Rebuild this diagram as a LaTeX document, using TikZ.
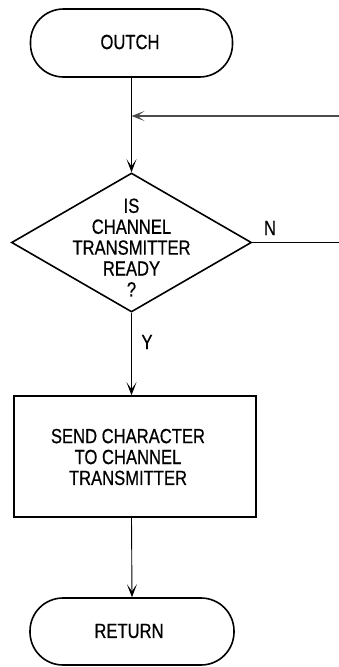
\documentclass[tikz,border=0pt]{standalone}
\usepackage{fontspec}
\setmainfont[FakeStretch=0.81,FakeBold=0.6]{Liberation Sans}
\usetikzlibrary{shapes.geometric,arrows.meta}
\begin{document}
\begin{tikzpicture}[x=1pt,y=-1pt,
  txt/.style={font=\fontsize{20.5}{20.9}\selectfont, align=center, inner sep=0pt},
  term/.style={draw, line width=1.6pt, rounded corners=33pt, inner sep=0pt},
  box/.style={draw, line width=1.6pt, inner sep=0pt},
  dec/.style={draw, diamond, line width=1.6pt, inner sep=0pt, minimum width=240pt, minimum height=139pt},
  conn/.style={line width=0.9pt},
  arr/.style={conn, -{Stealth[length=13pt,width=10pt,inset=7pt]}}]
\useasboundingbox (0,0) rectangle (339,667);
\node[term, minimum width=202pt, minimum height=68pt] (outch) at (131.5,43) {};
\node[txt] (outchT) at (130,42) {OUTCH};
\node[dec] (dia) at (131.5,242.5) {};
\node[txt] (diaT) at (131.5,247.5) {IS\\CHANNEL\\TRANSMITTER\\READY\\?};
\node[box, minimum width=242pt, minimum height=121pt] (rect) at (135,456.5) {};
\node[txt] (rectT) at (128,457) {SEND CHARACTER\\TO CHANNEL\\TRANSMITTER};
\node[term, minimum width=204pt, minimum height=67pt] (ret) at (132,631.5) {};
\node[txt] (retT) at (129,631) {RETURN};
\node[txt] (nlab) at (270,228) {N};
\node[txt] (ylab) at (147,342) {Y};
\coordinate (join) at (131.5,116);
\coordinate (inR) at (339,116);
\coordinate (outR) at (339,242.5);
\draw[arr] (outch.south) -- (dia.north);
\draw[arr, color=black!70, line width=1.2pt] (inR) -- (join);
\draw[conn] (dia.east) -- (outR);
\draw[arr] (dia.south) -- (dia.south |- rect.north);
\draw[arr] (dia.south |- rect.south) -- (ret.north);
\end{tikzpicture}
\end{document}
